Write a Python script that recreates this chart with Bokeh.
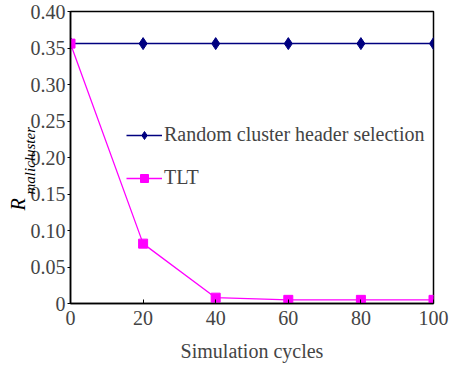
import math
from bokeh.plotting import figure
from bokeh.models import Range1d, Title, Legend, LegendItem, FixedTicker
from bokeh.embed import file_html
from bokeh.resources import INLINE

cycles = [0, 20, 40, 60, 80, 100]
random_sel = [0.356, 0.356, 0.356, 0.356, 0.356, 0.356]
tlt = [0.356, 0.082, 0.008, 0.005, 0.005, 0.005]
x_ticks = [0, 20, 40, 60, 80, 100]
y_ticks = [0, 0.05, 0.10, 0.15, 0.20, 0.25, 0.30, 0.35, 0.40]
y_tick_labels = {0: "0", 0.05: "0.05", 0.1: "0.10", 0.15: "0.15", 0.2: "0.20",
                 0.25: "0.25", 0.3: "0.30", 0.35: "0.35", 0.4: "0.40"}

FONT = "Liberation Serif"
NAVY = "#000080"
MAGENTA = "#FF00FF"

p = figure(width=455, height=365, output_backend="svg", toolbar_location=None,
           x_range=Range1d(0, 100), y_range=Range1d(0, 0.40),
           min_border_left=70, min_border_right=22, min_border_top=11,
           min_border_bottom=62, background_fill_color="white",
           border_fill_color="white")

p.grid.visible = False
p.outline_line_color = "black"
p.outline_line_width = 1.5
p.outline_line_alpha = 1

r1l = p.line(cycles, random_sel, line_color=NAVY, line_width=1.5)
r1s = p.scatter(cycles, random_sel, marker="diamond", size=12, fill_color=NAVY, line_color=NAVY)
r2l = p.line(cycles, tlt, line_color=MAGENTA, line_width=1.3)
r2s = p.scatter(cycles, tlt, marker="square", size=9, fill_color=MAGENTA, line_color=MAGENTA)

xa = p.xaxis[0]
xa.ticker = FixedTicker(ticks=x_ticks)
xa.axis_label = "Simulation cycles"
xa.axis_label_text_font = FONT
xa.axis_label_text_font_size = "20px"
xa.axis_label_text_font_style = "normal"
xa.axis_label_standoff = 12
xa.major_label_text_font = FONT
xa.major_label_text_font_size = "20px"
xa.major_label_standoff = 7
xa.major_tick_in = 4
xa.major_tick_out = 0
xa.minor_tick_in = 0
xa.minor_tick_out = 0
xa.axis_line_width = 1.5
xa.axis_line_color = "black"
xa.major_tick_line_color = "black"

ya = p.yaxis[0]
ya.ticker = FixedTicker(ticks=y_ticks)
ya.major_label_overrides = y_tick_labels
ya.major_label_text_font = FONT
ya.major_label_text_font_size = "20px"
ya.major_label_standoff = 2
ya.major_tick_in = 0
ya.major_tick_out = 3
ya.minor_tick_in = 0
ya.minor_tick_out = 0
ya.axis_line_width = 1.5
ya.axis_line_color = "black"
ya.major_tick_line_color = "black"

# y-axis label: R with subscript "malicluster", as two vertical titles on the left
sub_title = Title(text="malicluster", align="left", offset=109, standoff=-21,
                  text_font=FONT, text_font_size="15px", text_font_style="italic",
                  text_color="black")
r_title = Title(text="R", align="left", offset=93, standoff=-2,
                text_font=FONT, text_font_size="20px", text_font_style="italic",
                text_color="black")
p.add_layout(sub_title, "left")
p.add_layout(r_title, "left")

legend = Legend(items=[LegendItem(label="Random cluster header selection", renderers=[r1l, r1s]),
                       LegendItem(label="TLT", renderers=[r2l, r2s])],
                location=(56, 114), orientation="vertical")
legend.background_fill_alpha = 0
legend.border_line_alpha = 0
legend.label_text_font = FONT
legend.label_text_font_size = "20px"
legend.glyph_width = 36
legend.glyph_height = 20
legend.label_height = 20
legend.spacing = 20
legend.padding = 0
legend.margin = 0
legend.label_standoff = 2
p.add_layout(legend)

open("out.html", "w").write(file_html(p, INLINE))
